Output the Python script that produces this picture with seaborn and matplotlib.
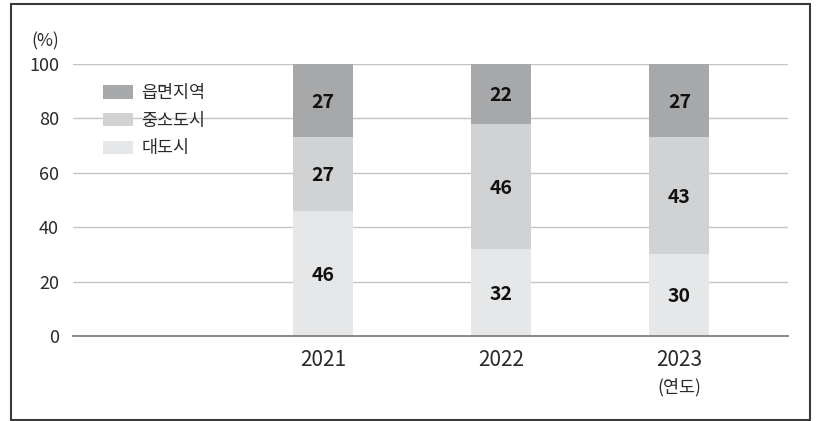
import matplotlib
matplotlib.use("Agg")
import matplotlib.pyplot as plt
from matplotlib.patches import Patch, Rectangle
from matplotlib.transforms import offset_copy
import numpy as np
import pandas as pd
import seaborn as sns

# Share of respondents by region type (%)
years = ["2021", "2022", "2023"]
metro = [46, 32, 30]        # 대도시
small_city = [27, 46, 43]   # 중소도시
rural = [27, 22, 27]        # 읍면지역
series_names = ["읍면지역", "중소도시", "대도시"]
y_ticks = [0, 20, 40, 60, 80, 100]

colors = {"읍면지역": "#a7a8aa", "중소도시": "#d1d2d4", "대도시": "#e6e7e8"}

sns.set_theme(style="white")
plt.rcParams["font.family"] = ["Noto Sans CJK KR", "DejaVu Sans"]

df = pd.DataFrame({
    "year": years,
    "metro": metro,
    "small_city": small_city,
    "rural": rural,
})
df["lvl1"] = df["metro"]
df["lvl2"] = df["metro"] + df["small_city"]
df["lvl3"] = df["lvl2"] + df["rural"]

fig = plt.figure(figsize=(8.2, 4.21), dpi=100)
ax = fig.add_axes([73 / 820, 1 - 336 / 421, 715 / 820, 272 / 421])

bw = 0.337
for col, name in [("lvl3", "읍면지역"), ("lvl2", "중소도시"), ("lvl1", "대도시")]:
    sns.barplot(data=df, x="year", y=col, order=years, color=colors[name],
                width=bw, saturation=1, ax=ax, linewidth=0, zorder=3)

# segment value labels, nudged slightly down to sit optically centred
label_tf = offset_copy(ax.transData, fig=fig, x=0, y=-1.2, units="points")
for i in range(len(years)):
    bottoms = [0, df["lvl1"][i], df["lvl2"][i]]
    vals = [metro[i], small_city[i], rural[i]]
    for b, v in zip(bottoms, vals):
        ax.text(i, b + v / 2, f"{v}", ha="center", va="center", transform=label_tf,
                fontsize=14, fontweight="bold", color="#111111", zorder=5)

ax.set_xlim(-1.404, 2.61)
ax.set_ylim(0, 100)
ax.set_yticks(y_ticks)
ax.set_yticklabels([str(t) for t in y_ticks])
ax.yaxis.grid(True, color="#c4c4c4", linewidth=1.0, zorder=0)
ax.xaxis.grid(False)
ax.set_axisbelow(True)
for s in ["top", "right", "left"]:
    ax.spines[s].set_visible(False)
ax.spines["bottom"].set_color("#7f7f7f")
ax.spines["bottom"].set_linewidth(1.3)
ax.spines["bottom"].set_zorder(4)
ax.tick_params(axis="both", length=0, labelcolor="#2a2a2a")
ax.tick_params(axis="y", pad=10, labelsize=13)
ax.tick_params(axis="x", pad=9, labelsize=15)
ax.set_xlabel("")
ax.set_ylabel("")

# legend
handles = [Patch(facecolor=colors[n], edgecolor="none", label=n) for n in series_names]
leg = ax.legend(handles=handles, loc="upper left",
                bbox_to_anchor=(30 / 715, 1 - 20 / 272),
                frameon=False, fontsize=12.5, handlelength=1.7, handleheight=0.8,
                handletextpad=0.5, labelspacing=0.56, borderaxespad=0, borderpad=0)
leg.set_zorder(6)
for t in leg.get_texts():
    t.set_color("#2a2a2a")

# axis unit labels
fig.text(45 / 820, 1 - 41 / 421, "(%)", ha="center", va="center",
         fontsize=12.5, color="#2a2a2a")
fig.text(679 / 820, 1 - 387 / 421, "(연도)", ha="center", va="center",
         fontsize=12.5, color="#2a2a2a")

# outer frame
fig.patches.append(Rectangle((11 / 820, 1 - 420 / 421), 799 / 820, 416 / 421,
                             transform=fig.transFigure, fill=False,
                             edgecolor="#3a3a3a", linewidth=1.5))

fig.savefig("out.png", dpi=100, facecolor="white")
